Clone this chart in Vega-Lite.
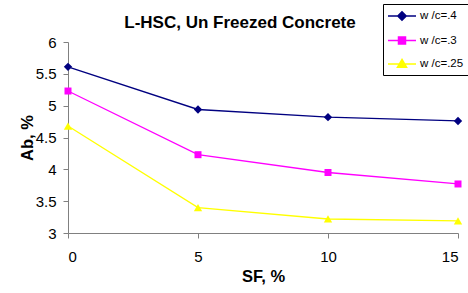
{
  "$schema": "https://vega.github.io/schema/vega-lite/v6.json",
  "width": 390,
  "height": 191,
  "autosize": {"type": "none"},
  "padding": {"left": 68, "top": 42, "right": 10, "bottom": 60},
  "background": "white",
  "title": {
    "text": "L-HSC, Un Freezed Concrete",
    "font": "Liberation Sans",
    "fontSize": 17,
    "fontWeight": "bold",
    "color": "black",
    "anchor": "middle",
    "frame": "group",
    "baseline": "alphabetic",
    "dx": -23,
    "dy": 41,
    "offset": 0
  },
  "config": {
    "view": {"stroke": null},
    "axis": {
      "grid": false,
      "domainColor": "#808080",
      "tickColor": "#808080",
      "tickSize": 5,
      "labelFont": "Liberation Sans",
      "labelFontSize": 15,
      "labelColor": "black",
      "labelOverlap": false,
      "titleFont": "Liberation Sans",
      "titleFontSize": 16.5,
      "titleFontWeight": "bold",
      "titleColor": "black"
    },
    "legend": {
      "orient": "none",
      "legendX": 315,
      "legendY": -38,
      "padding": 4,
      "strokeColor": "black",
      "fillColor": "white",
      "symbolSize": 196,
      "symbolStrokeWidth": 1.5,
      "symbolOpacity": 1,
      "symbolOffset": 7,
      "labelOffset": 10,
      "rowPadding": 8.5,
      "labelFont": "Liberation Sans",
      "labelFontSize": 11.5,
      "labelColor": "black"
    }
  },
  "datasets": {
    "d": [
      {"sf": 0, "ab": 5.61, "s": "w /c=.4"},
      {"sf": 5, "ab": 4.94, "s": "w /c=.4"},
      {"sf": 10, "ab": 4.82, "s": "w /c=.4"},
      {"sf": 15, "ab": 4.76, "s": "w /c=.4"},
      {"sf": 0, "ab": 5.23, "s": "w /c=.3"},
      {"sf": 5, "ab": 4.23, "s": "w /c=.3"},
      {"sf": 10, "ab": 3.95, "s": "w /c=.3"},
      {"sf": 15, "ab": 3.77, "s": "w /c=.3"},
      {"sf": 0, "ab": 4.68, "s": "w /c=.25"},
      {"sf": 5, "ab": 3.40, "s": "w /c=.25"},
      {"sf": 10, "ab": 3.22, "s": "w /c=.25"},
      {"sf": 15, "ab": 3.19, "s": "w /c=.25"}
    ]
  },
  "layer": [
    {
      "data": {"name": "d"},
      "transform": [{"filter": "datum.s === 'w /c=.4'"}],
      "mark": {"type": "line", "strokeWidth": 1.3, "color": "#000080",
               "point": {"shape": "diamond", "filled": true, "size": 70, "color": "#000080", "opacity": 1}},
      "encoding": {
        "x": {"field": "sf", "type": "quantitative", "title": "SF, %", "scale": {"domain": [0, 15], "nice": false, "zero": false}, "axis": {"values": [0, 5, 10, 15], "format": "~g", "labelPadding": 11, "titlePadding": 4}},
        "y": {"field": "ab", "type": "quantitative", "title": "Ab, %", "scale": {"domain": [3, 6], "nice": false, "zero": false}, "axis": {"values": [3, 3.5, 4, 4.5, 5, 5.5, 6], "format": ".1~f", "labelPadding": 7, "titlePadding": 0}}
      }
    },
    {
      "data": {"name": "d"},
      "transform": [{"filter": "datum.s === 'w /c=.3'"}],
      "mark": {"type": "line", "strokeWidth": 1.3, "color": "#FF00FF",
               "point": {"shape": "square", "filled": true, "size": 49, "color": "#FF00FF", "opacity": 1}},
      "encoding": {
        "x": {"field": "sf", "type": "quantitative", "title": "SF, %", "axis": {"values": [0, 5, 10, 15], "format": "~g", "labelPadding": 11, "titlePadding": 4}},
        "y": {"field": "ab", "type": "quantitative", "title": "Ab, %", "axis": {"values": [3, 3.5, 4, 4.5, 5, 5.5, 6], "format": ".1~f", "labelPadding": 7, "titlePadding": 0}}
      }
    },
    {
      "data": {"name": "d"},
      "transform": [{"filter": "datum.s === 'w /c=.25'"}],
      "mark": {"type": "line", "strokeWidth": 1.3, "color": "#FFFF00",
               "point": {"shape": "triangle-up", "filled": true, "size": 70, "color": "#FFFF00", "opacity": 1}},
      "encoding": {
        "x": {"field": "sf", "type": "quantitative", "title": "SF, %", "axis": {"values": [0, 5, 10, 15], "format": "~g", "labelPadding": 11, "titlePadding": 4}},
        "y": {"field": "ab", "type": "quantitative", "title": "Ab, %", "axis": {"values": [3, 3.5, 4, 4.5, 5, 5.5, 6], "format": ".1~f", "labelPadding": 7, "titlePadding": 0}}
      }
    },
    {
      "data": {"name": "d"},
      "mark": {"type": "point", "filled": true, "size": 196, "strokeWidth": 1.5, "opacity": 0},
      "encoding": {
        "x": {"field": "sf", "type": "quantitative", "title": "SF, %", "axis": {"values": [0, 5, 10, 15], "format": "~g", "labelPadding": 11, "titlePadding": 4}},
        "y": {"field": "ab", "type": "quantitative", "title": "Ab, %", "axis": {"values": [3, 3.5, 4, 4.5, 5, 5.5, 6], "format": ".1~f", "labelPadding": 7, "titlePadding": 0}},
        "shape": {
          "field": "s", "type": "nominal",
          "scale": {
            "domain": ["w /c=.4", "w /c=.3", "w /c=.25"],
            "range": [
              "M-2,0H2M0,-0.6L0.6,0L0,0.6L-0.6,0Z",
              "M-2,0H2M-0.5,-0.5H0.5V0.5H-0.5Z",
              "M-2,0H2M0,-0.65L0.65,0.45L-0.65,0.45Z"
            ]
          },
          "legend": {"title": null}
        },
        "fill": {
          "field": "s", "type": "nominal",
          "scale": {"domain": ["w /c=.4", "w /c=.3", "w /c=.25"], "range": ["#000080", "#FF00FF", "#FFFF00"]},
          "legend": {"title": null}
        },
        "stroke": {
          "field": "s", "type": "nominal",
          "scale": {"domain": ["w /c=.4", "w /c=.3", "w /c=.25"], "range": ["#000080", "#FF00FF", "#FFFF00"]},
          "legend": {"title": null}
        }
      }
    }
  ]
}
